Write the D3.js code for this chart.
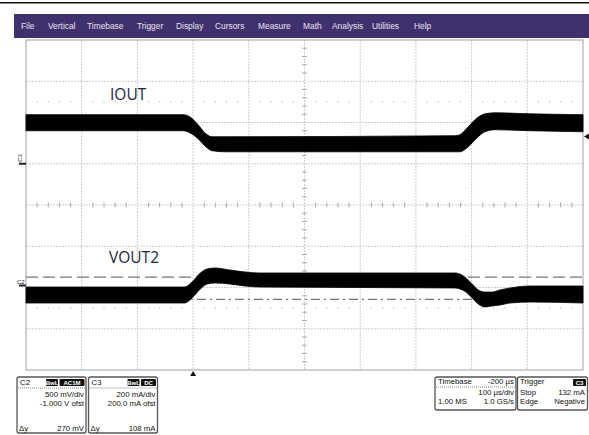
<!DOCTYPE html>
<html><head><meta charset="utf-8">
<script src="https://cdn.jsdelivr.net/npm/d3@7"></script>
<style>
html,body{margin:0;padding:0;background:#fff;}
svg{display:block;font-family:"Liberation Sans",Arimo,Arial,Roboto,sans-serif;}
</style></head>
<body>
<svg id="c" width="589" height="435"></svg>
<script>
// ---- data ----
const menuItems = ["File","Vertical","Timebase","Trigger","Display","Cursors","Measure","Math","Analysis","Utilities","Help"];
const timeTicks = [-300,-200,-100,0,100,200,300,400,500,600,700]; // µs, 100 µs/div
// IOUT (C3) envelope, mA
const iTime  = [-300, -18, -6,   9,  23,  34,  57, 470, 479, 494, 508, 524, 542, 605, 700];
const iUpper = [ 238, 238, 228, 189, 145, 131, 131, 136, 141, 179, 218, 242, 247, 242, 238];
const iLower = [ 160, 160, 150, 121,  82,  63,  58,  58,  58,  82, 121, 155, 165, 160, 155];
// VOUT2 (C2) envelope, V
const vTime  = [-300, -15, -2, 13, 25, 39, 66, 93, 120, 470, 479, 490, 501, 512, 524, 537, 551, 569, 605, 700];
const vUpper = [0.006, 0.006, 0.067, 0.176, 0.224, 0.236, 0.212, 0.188, 0.176, 0.176, 0.164, 0.115, 0.042, -0.030, -0.055, -0.055, -0.030, -0.006, 0.018, 0.018];
const vLower = [-0.188, -0.188, -0.127, -0.018, 0.042, 0.055, 0.042, 0.018, 0.006, -0.006, -0.018, -0.055, -0.127, -0.200, -0.236, -0.224, -0.212, -0.188, -0.176, -0.188];
const cursorV = [0.125, -0.145]; // V, Δy 270 mV
const triggerLevel = 132; // mA
const c2Box = ["C2", ["BwL","AC1M"], "500 mV/div", "-1.000 V ofst", "Δy", "270 mV"];
const c3Box = ["C3", ["BwL","DC"], "200 mA/div", "200.0 mA ofst", "Δy", "108 mA"];
const tbBox = ["Timebase", "-200 µs", "100 µs/div", "1.00 MS", "1.0 GS/s"];
const trBox = ["Trigger", "C3", "Stop", "132 mA", "Edge", "Negative"];

// ---- layout ----
const svg = d3.select("#c");
const L = 26, R = 583, T = 40, B = 370;
const x = d3.scaleLinear().domain([-300,700]).range([L,R]);
const yDiv = d3.scaleLinear().domain([-4,4]).range([B,T]);
const yI = d3.scaleLinear().domain([-1000,600]).range([B,T]);  // 200 mA/div, +200 mA offset
const yV = d3.scaleLinear().domain([-1,3]).range([B,T]);        // 500 mV/div, -1 V offset

// top line + menu bar
svg.append("rect").attr("x",0).attr("y",2).attr("width",589).attr("height",1.5).attr("fill","#111");
svg.append("rect").attr("x",14).attr("y",14).attr("width",575).attr("height",24).attr("fill","#41306e");
const menuX = [21,48,87,137,176,215,258,303,332,372,414];
svg.selectAll("text.menu").data(menuItems).join("text").attr("class","menu")
  .attr("x",(d,i)=>menuX[i]).attr("y",29).attr("fill","#e6e4ee").attr("font-size",8.4).text(d=>d);

// grid
const g = svg.append("g");
g.selectAll("line.vg").data(timeTicks.slice(1,-1)).join("line")
  .attr("x1",d=>x(d)).attr("x2",d=>x(d)).attr("y1",T).attr("y2",B)
  .attr("stroke","#cdcdcd").attr("stroke-width",1).attr("stroke-dasharray","2,1");
g.selectAll("line.hg").data(d3.range(-3,4)).join("line")
  .attr("x1",L).attr("x2",R).attr("y1",d=>yDiv(d)).attr("y2",d=>yDiv(d))
  .attr("stroke","#cdcdcd").attr("stroke-width",1).attr("stroke-dasharray","2,1");
// minor dotted lines and center ticks
const minorX = d3.range(-300,700.1,20).filter(t=>t%100!==0);
[2.5,-2.5].forEach(dv=>{
  g.selectAll(null).data(minorX).join("rect")
    .attr("x",d=>x(d)-0.5).attr("y",yDiv(dv)-0.5).attr("width",1).attr("height",1).attr("fill","#999");
});
g.selectAll(null).data(minorX).join("line")
  .attr("x1",d=>x(d)).attr("x2",d=>x(d)).attr("y1",yDiv(0)-2.5).attr("y2",yDiv(0)+2.5)
  .attr("stroke","#aaa");
const minorY = d3.range(-4,4.01,0.2).filter(v=>Math.abs(v-Math.round(v))>0.01);
g.selectAll(null).data(minorY).join("line")
  .attr("x1",x(200)-2.5).attr("x2",x(200)+2.5).attr("y1",d=>yDiv(d)).attr("y2",d=>yDiv(d))
  .attr("stroke","#aaa");
// frame
g.append("rect").attr("x",L).attr("y",T).attr("width",R-L).attr("height",B-T)
  .attr("fill","none").attr("stroke","#a0a0a0").attr("stroke-width",1);

// cursors
svg.append("line").attr("x1",L).attr("x2",R).attr("y1",yV(cursorV[0])).attr("y2",yV(cursorV[0]))
  .attr("stroke","#777").attr("stroke-width",1.3).attr("stroke-dasharray","12,5");
svg.append("line").attr("x1",L).attr("x2",R).attr("y1",yV(cursorV[1])).attr("y2",yV(cursorV[1]))
  .attr("stroke","#777").attr("stroke-width",1.3).attr("stroke-dasharray","9,4,2,4");

// waveforms
const iData = iTime.map((t,i)=>({t,u:iUpper[i],l:iLower[i]}));
const vData = vTime.map((t,i)=>({t,u:vUpper[i],l:vLower[i]}));
const areaI = d3.area().x(d=>x(d.t)).y0(d=>yI(d.l)).y1(d=>yI(d.u)).curve(d3.curveMonotoneX);
const areaV = d3.area().x(d=>x(d.t)).y0(d=>yV(d.l)).y1(d=>yV(d.u)).curve(d3.curveMonotoneX);
svg.append("path").datum(iData).attr("d",areaI).attr("fill","#000").attr("stroke","#000").attr("stroke-width",0.8);
svg.append("path").datum(vData).attr("d",areaV).attr("fill","#000").attr("stroke","#000").attr("stroke-width",0.8);

// trace labels
svg.append("text").attr("x",110).attr("y",100).attr("font-family","'Open Sans',sans-serif")
  .attr("font-size",15.5).attr("fill","#1c2540").text("IOUT");
svg.append("text").attr("x",109).attr("y",263).attr("font-family","'Open Sans',sans-serif")
  .attr("font-size",15.5).attr("fill","#1c2540").text("VOUT2");

// channel ground markers
svg.append("line").attr("x1",19).attr("x2",L).attr("y1",yI(0)).attr("y2",yI(0)).attr("stroke","#222").attr("stroke-width",2);
svg.append("text").attr("transform",`translate(22,${yI(0)-2}) rotate(-90)`).attr("font-size",6).attr("fill","#222").text("C3");
svg.append("line").attr("x1",19).attr("x2",L).attr("y1",yV(0)-2).attr("y2",yV(0)-2).attr("stroke","#222").attr("stroke-width",2);
svg.append("text").attr("x",17).attr("y",yV(0)-4).attr("font-size",6).attr("fill","#222").text("C2");

// trigger markers
svg.append("path").attr("d",`M${x(0)-3},${B+6}L${x(0)},${B+1}L${x(0)+3},${B+6}Z`).attr("fill","#111");
const ty = yI(triggerLevel);
svg.append("path").attr("d",`M${R+1},${ty}L${R+6},${ty-3}L${R+6},${ty+3}Z`).attr("fill","#111");

// info boxes
function box(x0,y0,w,h){
  svg.append("rect").attr("x",x0).attr("y",y0).attr("width",w).attr("height",h).attr("rx",2)
    .attr("fill","#fff").attr("stroke","#555").attr("stroke-width",1.3);
}
function txt(x0,y0,s,anchor){
  svg.append("text").attr("x",x0).attr("y",y0).attr("font-size",7.8).attr("fill","#111")
    .attr("text-anchor",anchor||"start").text(s);
}
function badge(x0,y0,w,s){
  svg.append("rect").attr("x",x0).attr("y",y0).attr("width",w).attr("height",7).attr("rx",1).attr("fill","#111");
  svg.append("text").attr("x",x0+w/2).attr("y",y0+6).attr("font-size",6).attr("font-weight","bold")
    .attr("fill","#fff").attr("text-anchor","middle").text(s);
}
function dots(x1,x2,y0){
  svg.append("line").attr("x1",x1).attr("x2",x2).attr("y1",y0).attr("y2",y0)
    .attr("stroke","#666").attr("stroke-width",0.8).attr("stroke-dasharray","1,1");
}
function chanBox(x0,data,bw){
  box(x0,377,69,56);
  txt(x0+3,385,data[0]);
  badge(x0+69-bw[0]-bw[1]-3,379,bw[0],data[1][0]);
  badge(x0+69-bw[1]-1.5,379,bw[1],data[1][1]);
  dots(x0+1,x0+68,388);
  txt(x0+67,397,data[2],"end");
  txt(x0+67,406,data[3],"end");
  txt(x0+2,431,data[4]);
  txt(x0+67,431,data[5],"end");
}
chanBox(17,c2Box,[12,25]);
chanBox(88.5,c3Box,[12,15]);
box(435,377,81,33);
txt(438,384,tbBox[0]); txt(514,384,tbBox[1],"end");
dots(436,515,387);
txt(514,395,tbBox[2],"end");
txt(438,404,tbBox[3]); txt(514,404,tbBox[4],"end");
box(517.5,377,70,33);
txt(520,384,trBox[0]); badge(573,379,13,trBox[1]);
txt(520,395,trBox[2]); txt(585,395,trBox[3],"end");
txt(520,404,trBox[4]); txt(585,404,trBox[5],"end");
</script>
</body></html>
